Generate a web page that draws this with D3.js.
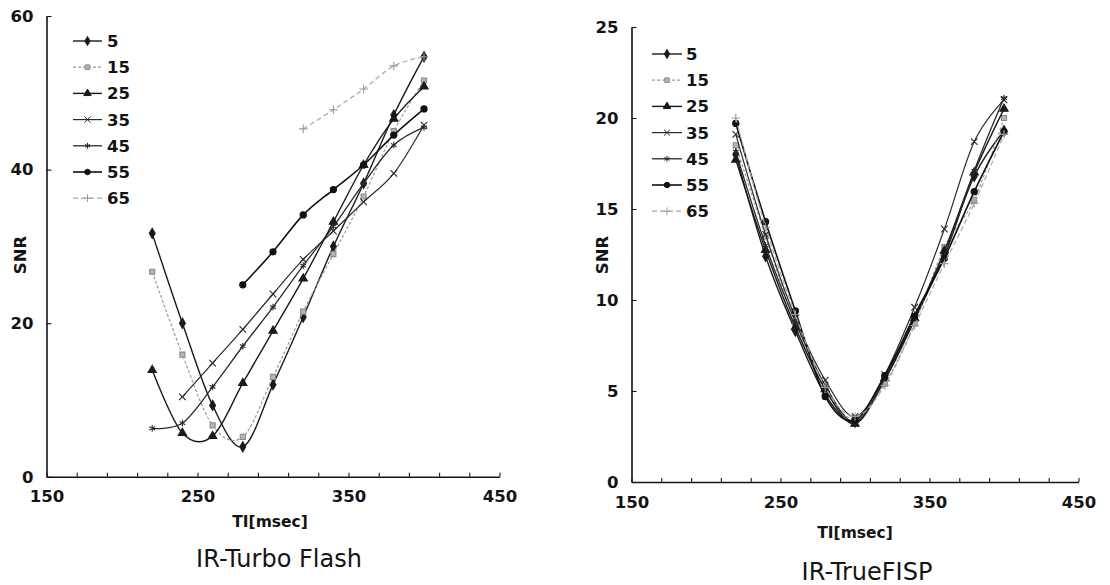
<!DOCTYPE html>
<html>
<head>
<meta charset="utf-8">
<script src="https://cdn.jsdelivr.net/npm/d3@7/dist/d3.min.js"></script>
<style>
  html, body { margin: 0; padding: 0; background: #ffffff; }
  svg { display: block; }
  text { font-family: "DejaVu Sans", sans-serif; fill: #141414; }
</style>
</head>
<body>
<svg id="chart" width="1110" height="585"></svg>
<script>
// ---------------- DATA ----------------
const tiValues = [220, 240, 260, 280, 300, 320, 340, 360, 380, 400];
const seriesNames = ["5", "15", "25", "35", "45", "55", "65"];

// IR-Turbo Flash SNR (null = not measured)
const tf5  = [31.7, 20.0, 9.3, 3.9, 12.0, 20.8, 30.0, 38.2, 47.1, 54.7];
const tf15 = [26.7, 15.9, 6.7, 5.2, 13.0, 21.5, 29.0, 36.5, 45.0, 51.6];
const tf25 = [13.9, 5.7, 5.3, 12.2, 19.0, 25.8, 33.2, 40.6, 46.6, 50.8];
const tf35 = [null, 10.4, 14.8, 19.2, 23.8, 28.3, 32.0, 35.8, 39.5, 45.8];
const tf45 = [6.3, 7.0, 11.7, 17.0, 22.1, 27.5, 32.6, 38.2, 43.2, 45.5];
const tf55 = [null, null, null, 25.0, 29.3, 34.1, 37.4, 40.6, 44.5, 47.9];
const tf65 = [null, null, null, null, null, 45.3, 47.8, 50.5, 53.5, 54.7];

// IR-TrueFISP SNR
const tfisp5  = [18.0, 12.4, 8.3, 4.8, 3.3, 5.6, 8.9, 12.5, 16.8, 19.3];
const tfisp15 = [18.5, 13.5, 8.7, 5.0, 3.5, 5.4, 8.7, 12.9, 15.5, 20.0];
const tfisp25 = [17.7, 12.75, 8.5, 5.1, 3.2, 5.7, 9.0, 12.7, 17.0, 20.5];
const tfisp35 = [19.1, 13.6, 9.0, 5.6, 3.6, 5.9, 9.6, 13.9, 18.7, 21.0];
const tfisp45 = [18.15, 13.0, 8.8, 5.3, 3.3, 5.7, 9.2, 12.4, 17.1, 21.1];
const tfisp55 = [19.7, 14.3, 9.4, 4.7, 3.4, 5.85, 9.1, 12.3, 15.95, 19.25];
const tfisp65 = [20.0, 14.0, 9.2, 5.2, 3.6, 5.3, 8.6, 12.0, 15.3, 19.1];

// Axis ticks
const xTickValues = [150, 170, 190, 210, 230, 250, 270, 290, 310, 330, 350, 370, 390, 410, 430, 450];
const xTickLabels = [150, 250, 350, 450];
const tfYTicks = [0, 20, 40, 60];
const fispYTicks = [0, 5, 10, 15, 20, 25];

const xLabel = "TI[msec]";
const yLabel = "SNR";
const titles = ["IR-Turbo Flash", "IR-TrueFISP"];

// ---------------- STYLES ----------------
const styles = {
  "5":  { color: "#1a1a1a", width: 1.4, dash: null,  symbol: d3.symbolDiamond,  size: 30, fill: "#1a1a1a", stroke: "#1a1a1a" },
  "15": { color: "#9a9a9a", width: 1.2, dash: "3,2", symbol: d3.symbolSquare,   size: 26, fill: "#b5b5b5", stroke: "#8a8a8a" },
  "25": { color: "#1a1a1a", width: 1.4, dash: null,  symbol: d3.symbolTriangle, size: 30, fill: "#1a1a1a", stroke: "#1a1a1a" },
  "35": { color: "#2a2a2a", width: 1.2, dash: null,  symbol: d3.symbolTimes,    size: 30, fill: "none",    stroke: "#2a2a2a" },
  "45": { color: "#2a2a2a", width: 1.3, dash: null,  symbol: d3.symbolAsterisk, size: 30, fill: "none",    stroke: "#2a2a2a" },
  "55": { color: "#111111", width: 1.6, dash: null,  symbol: d3.symbolCircle,   size: 30, fill: "#111111", stroke: "#111111" },
  "65": { color: "#a8a8a8", width: 1.2, dash: "5,3", symbol: d3.symbolPlus,     size: 26, fill: "none",    stroke: "#9a9a9a" }
};

const svg = d3.select("#chart");

function drawPanel(cfg) {
  const x = d3.scaleLinear().domain([150, 450]).range(cfg.xRange);
  const y = d3.scaleLinear().domain([0, cfg.yMax]).range(cfg.yRange);
  const g = svg.append("g");

  // x axis
  const xAxis = d3.axisBottom(x)
    .tickValues(xTickValues)
    .tickSizeInner(-4).tickSizeOuter(0)
    .tickPadding(cfg.xPad)
    .tickFormat(d => xTickLabels.includes(d) ? d : "");
  const gx = g.append("g").attr("transform", `translate(0,${cfg.yRange[0]})`).call(xAxis);
  gx.select(".domain").attr("stroke", "#141414").attr("stroke-width", 1.6);
  gx.selectAll(".tick line").attr("stroke", "#141414").attr("stroke-width", 1.1);
  gx.selectAll(".tick text").attr("font-size", 16.5).attr("font-weight", "bold")
    .attr("font-family", "DejaVu Sans, sans-serif").attr("fill", "#141414");

  // y axis
  const yAxis = d3.axisLeft(y)
    .tickValues(cfg.yTicks)
    .tickSizeInner(-5).tickSizeOuter(0)
    .tickPadding(13);
  const gy = g.append("g").attr("transform", `translate(${cfg.xRange[0]},0)`).call(yAxis);
  gy.select(".domain").attr("stroke", "#141414").attr("stroke-width", 1.6);
  gy.selectAll(".tick line").attr("stroke", "#141414").attr("stroke-width", 1.1);
  gy.selectAll(".tick text").attr("font-size", 16.5).attr("font-weight", "bold")
    .attr("font-family", "DejaVu Sans, sans-serif").attr("fill", "#141414");

  // axis titles
  g.append("text").attr("x", cfg.xLabelPos[0]).attr("y", cfg.xLabelPos[1])
    .attr("text-anchor", "middle").attr("font-size", 15.5).attr("font-weight", "bold")
    .text(xLabel);
  g.append("text")
    .attr("transform", `translate(${cfg.yLabelPos[0]},${cfg.yLabelPos[1]}) rotate(-90)`)
    .attr("text-anchor", "middle").attr("dy", "0.35em")
    .attr("font-size", 16.5).attr("font-weight", "bold")
    .text(yLabel);
  g.append("text").attr("x", cfg.titlePos[0]).attr("y", cfg.titlePos[1])
    .attr("text-anchor", "middle").attr("font-size", 24)
    .text(cfg.title);

  // series
  const line = d3.line()
    .x(d => x(d.ti)).y(d => y(d.v))
    .curve(d3.curveCardinal.tension(0));

  cfg.series.forEach((vals, i) => {
    const name = seriesNames[i];
    const st = styles[name];
    const pts = tiValues.map((ti, k) => ({ ti, v: vals[k] })).filter(d => d.v !== null);
    g.append("path").datum(pts)
      .attr("d", line)
      .attr("fill", "none")
      .attr("stroke", st.color)
      .attr("stroke-width", st.width)
      .attr("stroke-dasharray", st.dash);
    g.selectAll(null).data(pts).enter().append("path")
      .attr("transform", d => `translate(${x(d.ti)},${y(d.v)})`)
      .attr("d", d3.symbol().type(st.symbol).size(st.size))
      .attr("fill", st.fill)
      .attr("stroke", st.stroke)
      .attr("stroke-width", 1.1);
  });

  // legend
  const lg = g.append("g");
  seriesNames.forEach((name, i) => {
    const st = styles[name];
    const yy = cfg.legend.y0 + i * cfg.legend.step;
    lg.append("line")
      .attr("x1", cfg.legend.x0).attr("x2", cfg.legend.x1)
      .attr("y1", yy).attr("y2", yy)
      .attr("stroke", st.color).attr("stroke-width", st.width)
      .attr("stroke-dasharray", st.dash);
    lg.append("path")
      .attr("transform", `translate(${(cfg.legend.x0 + cfg.legend.x1) / 2},${yy})`)
      .attr("d", d3.symbol().type(st.symbol).size(st.size * 0.8))
      .attr("fill", st.fill).attr("stroke", st.stroke).attr("stroke-width", 1);
    lg.append("text")
      .attr("x", cfg.legend.tx).attr("y", yy).attr("dy", "0.36em")
      .attr("font-size", 16.5).attr("font-weight", "bold")
      .text(name);
  });
}

drawPanel({
  xRange: [46.5, 499.5],
  yRange: [476.8, 16],
  yMax: 60,
  yTicks: tfYTicks,
  xPad: 13,
  xLabelPos: [270, 527],
  yLabelPos: [20, 255],
  titlePos: [279, 567],
  title: titles[0],
  series: [tf5, tf15, tf25, tf35, tf45, tf55, tf65],
  legend: { x0: 73, x1: 102, tx: 107, y0: 41, step: 26.2 }
});

drawPanel({
  xRange: [631.5, 1078.5],
  yRange: [482, 27],
  yMax: 25,
  yTicks: fispYTicks,
  xPad: 14,
  xLabelPos: [855, 538],
  yLabelPos: [602, 255],
  titlePos: [867, 580],
  title: titles[1],
  series: [tfisp5, tfisp15, tfisp25, tfisp35, tfisp45, tfisp55, tfisp65],
  legend: { x0: 652, x1: 682, tx: 686, y0: 54, step: 26.2 }
});
</script>
</body>
</html>
